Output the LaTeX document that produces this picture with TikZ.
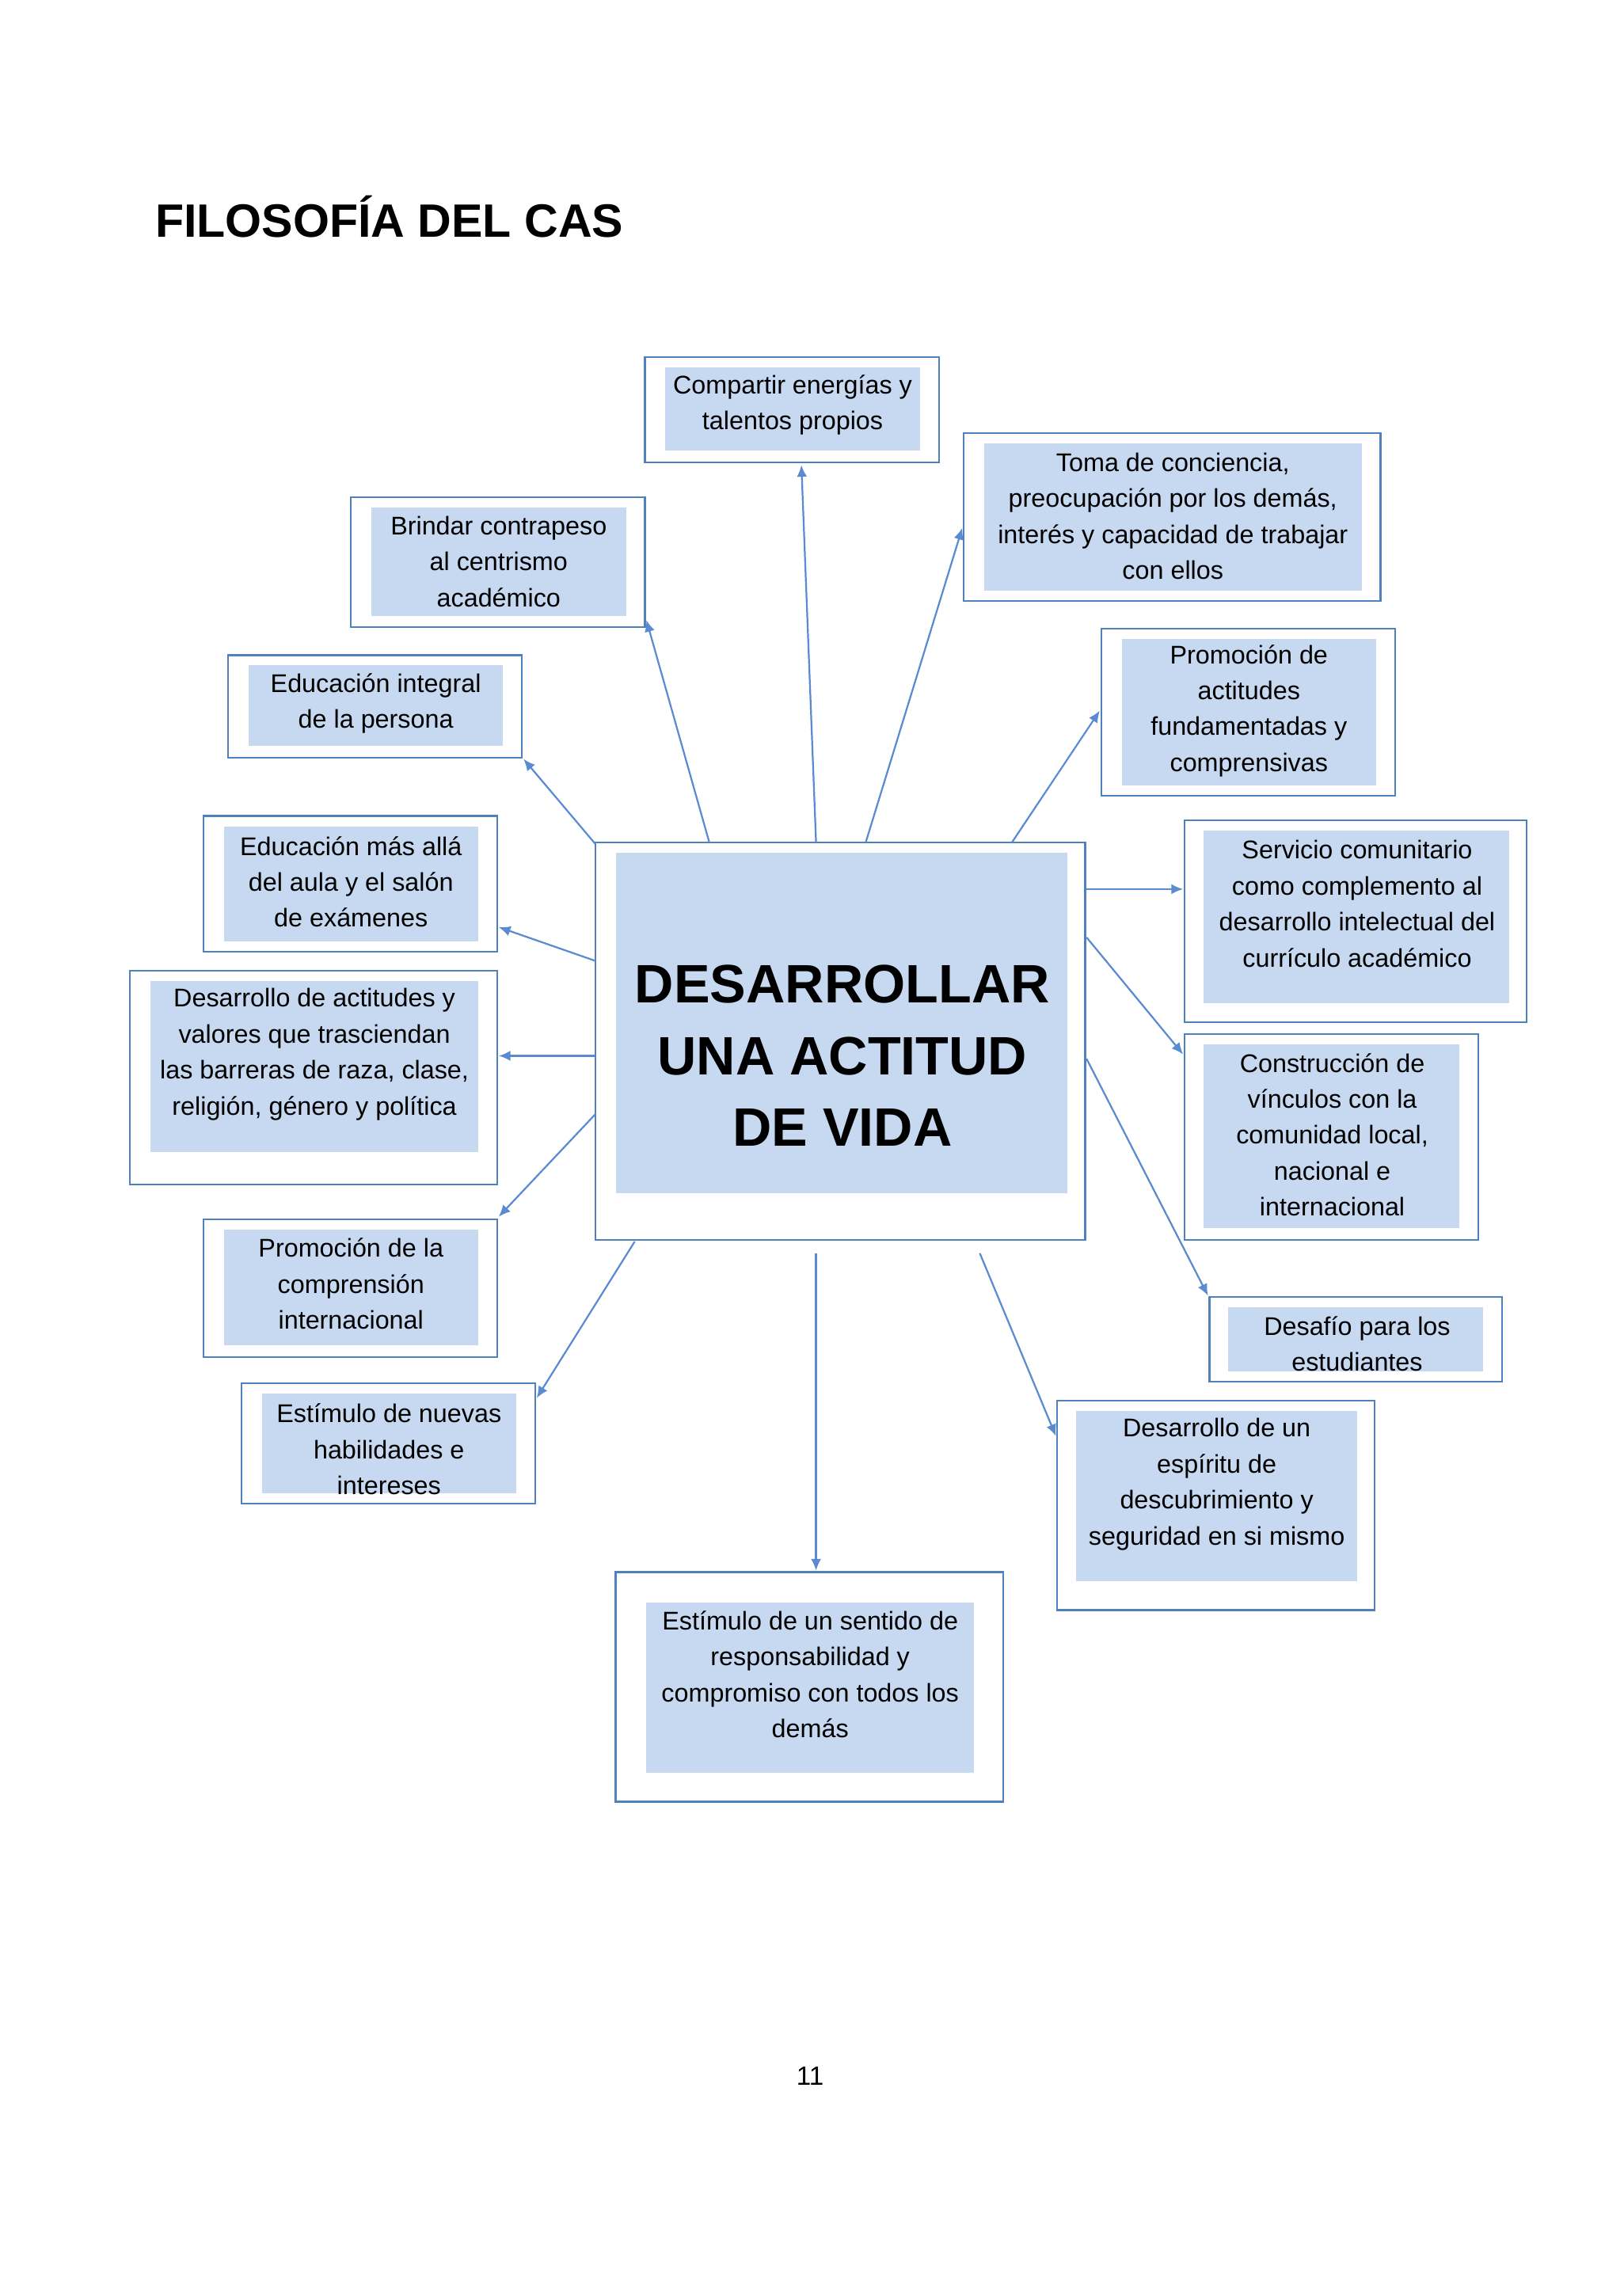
\documentclass[tikz,border=0pt]{standalone}
\usepackage{fontspec}
\setmainfont{Liberation Sans}
\usetikzlibrary{arrows.meta}
\definecolor{bord}{HTML}{4F81BD}
\definecolor{fillb}{HTML}{C6D9F1}
\definecolor{arr}{HTML}{5A8AD0}
\begin{document}
\begin{tikzpicture}[x=1pt,y=-1pt,
  outerbox/.style={draw=bord,line width=1.2pt,fill=white},
  innerbox/.style={fill=fillb},
  txt/.style={align=center,font=\fontsize{17.5}{24.6}\selectfont,inner sep=0pt},
  conn/.style={draw=arr,line width=1.2pt,-{Latex[length=8pt,width=7pt]}}]
\useasboundingbox (0,0) rectangle (1110,1568);
\fill[white] (0,0) rectangle (1110,1568);
\node[anchor=base west,inner sep=0pt,font=\fontsize{32}{38}\selectfont\bfseries] (title) at (106,162) {FILOSOFÍA DEL CAS};
\node[anchor=base,inner sep=0pt,font=\fontsize{18}{20}\selectfont] (pg) at (554,1426) {11};
% boxes
\newcommand{\bx}[9]{%
 \draw[outerbox] (#1,#2) rectangle (#3,#4);
 \fill[innerbox] (#5,#6) rectangle (#7,#8);
 \node[txt] (#9) at ({(#1+#3)/2},0) {};}
\def\B#1#2#3#4#5#6#7#8{\draw[outerbox] (#1,#2) rectangle (#3,#4); \fill[innerbox] (#5,#6) rectangle (#7,#8);}
\B{441}{244}{642}{316}{455}{251}{629}{308}
\B{659}{296}{944}{411}{673}{303}{931}{404}
\B{240}{340}{441}{429}{254}{347}{428}{421}
\B{753}{430}{954}{544}{767}{437}{941}{537}
\B{156}{448}{357}{518}{170}{455}{344}{510}
\B{810}{561}{1044}{699}{823}{568}{1032}{686}
\B{139}{558}{340}{651}{153}{565}{327}{644}
\B{407}{576}{742}{848}{421}{583}{730}{816}
\B{89}{664}{340}{810}{103}{671}{327}{788}
\B{810}{707}{1011}{848}{823}{714}{998}{840}
\B{139}{834}{340}{928}{153}{841}{327}{920}
\B{827}{887}{1027}{945}{840}{894}{1014}{938}
\B{165}{946}{366}{1028}{179}{953}{353}{1021}
\B{723}{958}{940}{1101}{736}{965}{928}{1081}
\B{421}{1075}{686}{1232}{442}{1096}{666}{1212}
% texts
\node[txt] (t1) at (542,277) {Compartir energías y\\talentos propios};
\node[txt] (t2) at (802,353) {Toma de conciencia,\\preocupación por los demás,\\interés y capacidad de trabajar\\con ellos};
\node[txt] (t3) at (341,384) {Brindar contrapeso\\al centrismo\\académico};
\node[txt] (t4) at (854,486) {Promoción de\\actitudes\\fundamentadas y\\comprensivas};
\node[txt] (t5) at (257,481) {Educación integral\\de la persona};
\node[txt] (t6) at (928,618) {Servicio comunitario\\como complemento al\\desarrollo intelectual del\\currículo académico};
\node[txt] (t7) at (240,603) {Educación más allá\\del aula y el salón\\de exámenes};
\node[txt,font=\fontsize{37}{49}\selectfont\bfseries] (c) at (576,722) {DESARROLLAR\\UNA ACTITUD\\DE VIDA};
\node[txt] (t9) at (215,721) {Desarrollo de actitudes y\\valores que trasciendan\\las barreras de raza, clase,\\religión, género y política};
\node[txt] (t10) at (911,776) {Construcción de\\vínculos con la\\comunidad local,\\nacional e\\internacional};
\node[txt] (t11) at (240,878) {Promoción de la\\comprensión\\internacional};
\node[txt] (t12) at (928,919) {Desafío para los\\estudiantes};
\node[txt] (t13) at (266,991) {Estímulo de nuevas\\habilidades e\\intereses};
\node[txt] (t14) at (832,1015) {Desarrollo de un\\espíritu de\\descubrimiento y\\seguridad en si mismo};
\node[txt] (t15) at (554,1145) {Estímulo de un sentido de\\responsabilidad y\\compromiso con todos los\\demás};
% connectors
\foreach \a/\b/\c/\d [count=\i] in {558/576/548/318, 592/576/658/361, 485/576/442/424, 692/576/752/486, 407/577/358/519, 743/608/809/608, 407/657/341/634, 407/722/341/722, 743/641/809/721, 407/762/341/832, 743/724/826/886, 434/849/367/956, 670/857/722/982, 558/857/558/1074}{
  \coordinate (s\i) at (\a,\b); \coordinate (e\i) at (\c,\d);
  \draw[conn] (s\i) -- (e\i);}
\end{tikzpicture}
\end{document}
